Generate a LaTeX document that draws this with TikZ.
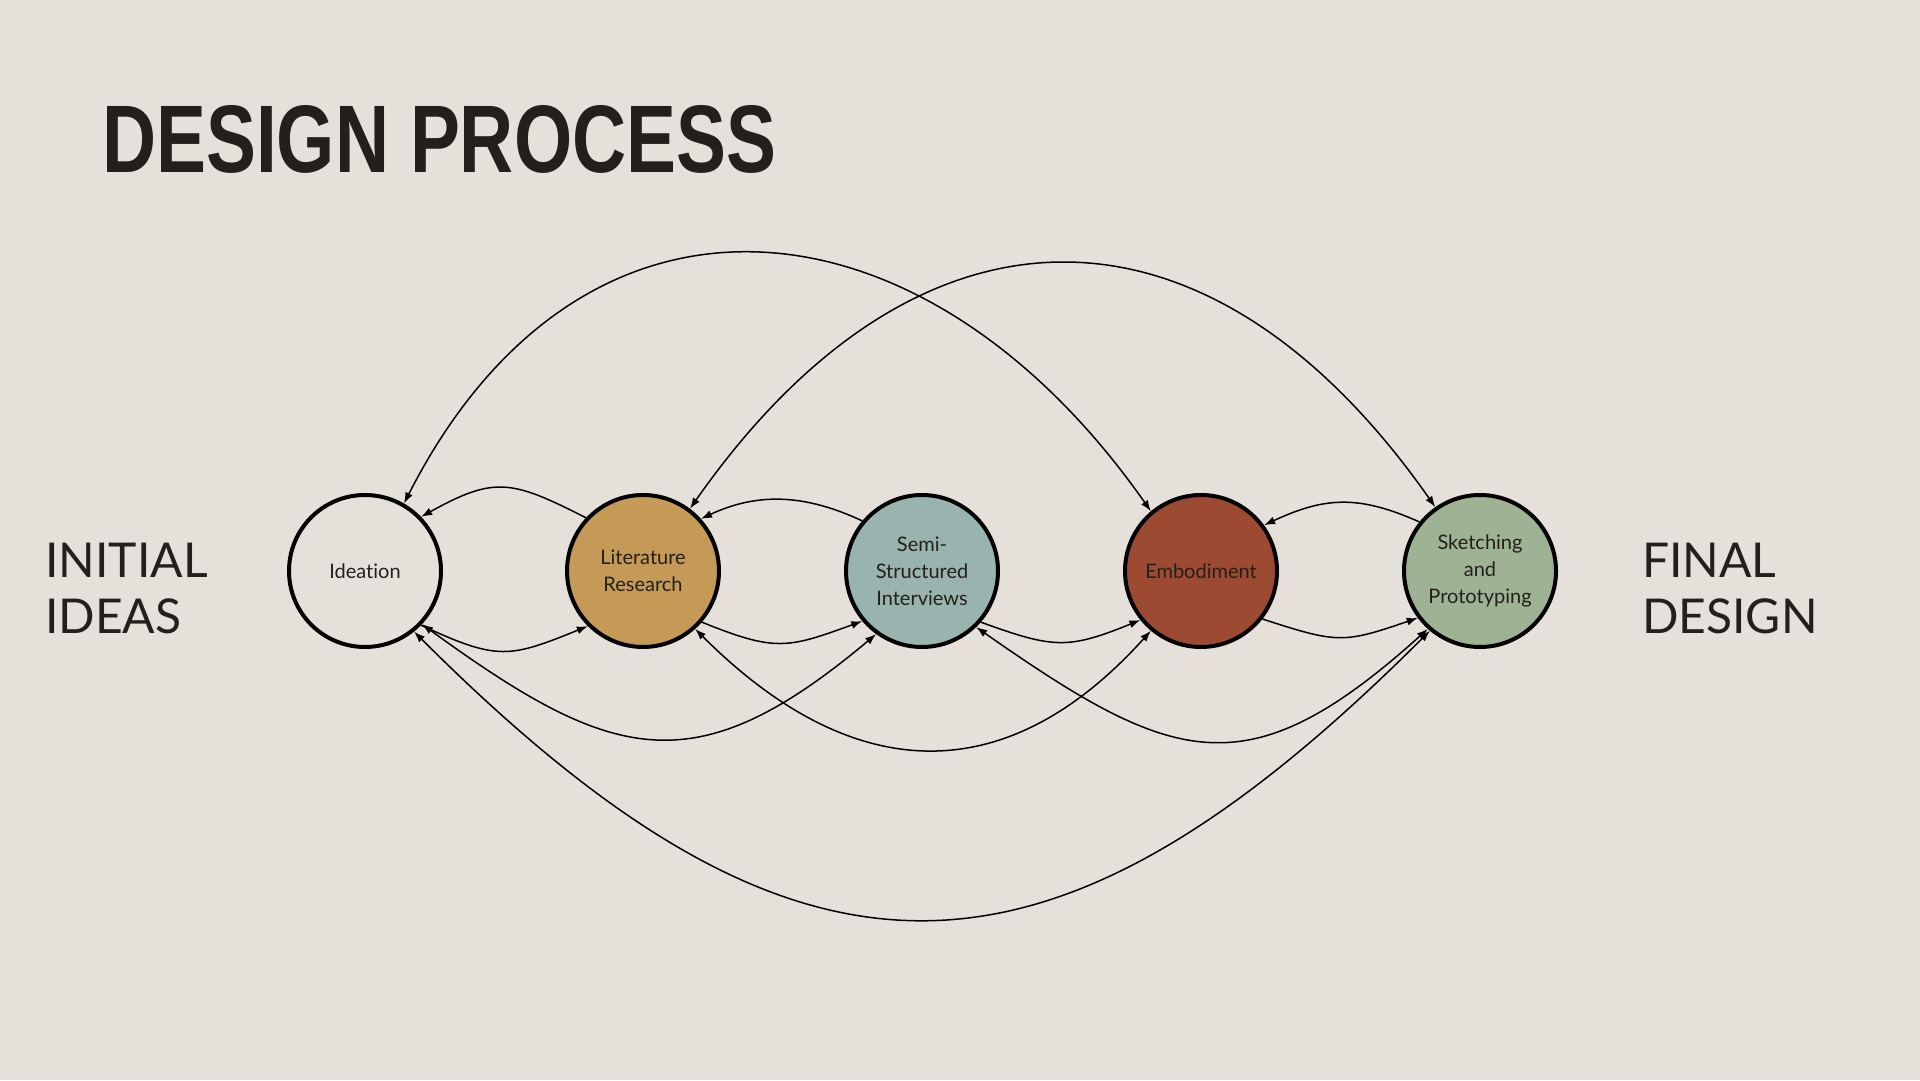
\documentclass[tikz,border=0pt]{standalone}
\usepackage{fontspec}
\setmainfont{Lato}[Ligatures=NoCommon]
\newfontfamily\titlefont[FakeStretch=0.78]{Liberation Sans}
\usetikzlibrary{arrows.meta}

\definecolor{paper}{HTML}{E5E0DA}
\definecolor{ink}{HTML}{231F1B}
\definecolor{ochre}{HTML}{C59A56}
\definecolor{sage}{HTML}{99B3AF}
\definecolor{rust}{HTML}{9D4A33}
\definecolor{moss}{HTML}{9EB394}

\tikzset{
  stage/.style={circle, draw=black, line width=4pt, minimum size=152pt, inner sep=0pt,
    align=center, text=ink, font=\fontsize{20}{27}\selectfont},
  flow/.style={-{Latex[length=11pt,width=8pt]}, line width=1.5pt},
  twoway/.style={{Latex[length=11pt,width=8pt]}-{Latex[length=11pt,width=8pt]}, line width=1.5pt},
  side/.style={anchor=base west, inner sep=0pt, text=ink, font=\fontsize{48}{56}\selectfont}
}

\begin{document}
\begin{tikzpicture}[x=1pt, y=1pt]
		%%%%% START %%%%%
		
		\fill[paper] (0, 0) rectangle (1920, 1080);
		
		\node[anchor=base west, inner sep=0pt, text=ink, font=\titlefont\bfseries\fontsize{96}{96}\selectfont] (title) at (102, 907) {DESIGN PROCESS};
		
		\node[side] (initial) at (45, 502) {INITIAL};
		\node[side] (ideas) at (45, 446) {IDEAS};
		\node[side] (final) at (1642, 502) {FINAL};
		\node[side] (design) at (1642, 446) {DESIGN};
		
		\node[stage] (ideation) at (365, 509) {Ideation};
		\node[stage, fill=ochre] (literature) at (643, 509) {Literature\\Research};
		\node[stage, fill=sage] (interviews) at (922, 509) {Semi-\\Structured\\Interviews};
		\node[stage, fill=rust] (embodiment) at (1201, 509) {Embodiment};
		\node[stage, fill=moss] (sketching) at (1480, 509) {Sketching\\and\\Prototyping};
		
		% big arcs over the top
		\draw[twoway] (ideation.60) to[out=63, in=125, looseness=1.35] (embodiment.130);
		\draw[twoway] (literature.53) to[out=55, in=125, looseness=1.36] (sketching.125);
		
		% short hops back
		\draw[flow] (literature.137) to[out=153, in=29, looseness=1.3] (ideation.44);
		\draw[flow] (interviews.140) to[out=155, in=25, looseness=1.0] (literature.42);
		\draw[flow] (sketching.141) to[out=156, in=25, looseness=1.1] (embodiment.36);
		
		% short hops forward
		\draw[flow] (ideation.-44) to[out=-25, in=202, looseness=1.3] (literature.-135);
		\draw[flow] (literature.-41) to[out=-22, in=200, looseness=1.27] (interviews.-140);
		\draw[flow] (interviews.-41) to[out=-20, in=202, looseness=1.25] (embodiment.-141);
		\draw[flow] (embodiment.-38) to[out=-18, in=199, looseness=1.3] (sketching.-143);
		
		% arcs underneath
		\draw[twoway] (ideation.-43) to[out=-36, in=220, looseness=1.33] (interviews.-126);
		\draw[twoway] (literature.-48) to[out=-45, in=228, looseness=1.23] (embodiment.-130);
		\draw[twoway] (interviews.-46) to[out=-35, in=222, looseness=1.37] (sketching.-132);
		\draw[twoway] (ideation.-51) to[out=-45, in=225, looseness=1.37] (sketching.-130);
		
		%%%%% END %%%%%
\end{tikzpicture}
\end{document}
